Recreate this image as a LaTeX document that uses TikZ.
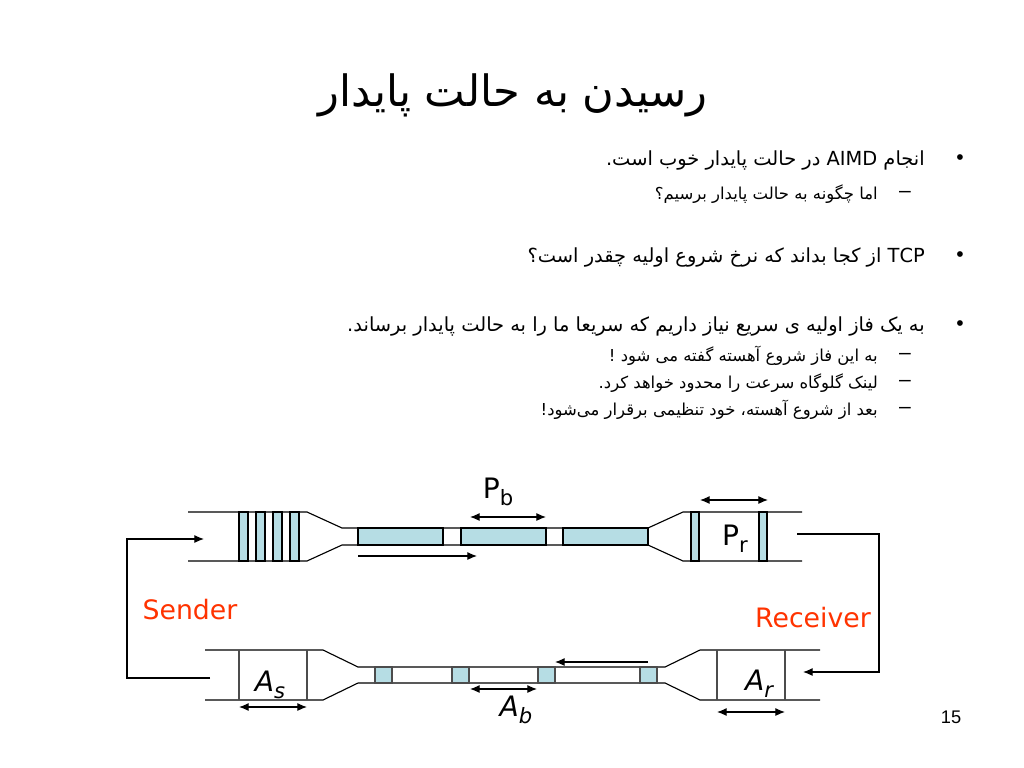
\documentclass[tikz,border=0pt]{standalone}
\usepackage{fontspec}
\setmainfont{Liberation Sans}
\newfontfamily\arabicfont[Script=Arabic]{DejaVu Sans}
\newfontfamily\figfont{DejaVu Sans}
\TeXXeTstate=1
\usetikzlibrary{arrows.meta,positioning}
\definecolor{pktblue}{RGB}{182,221,228}
\definecolor{labelred}{RGB}{255,51,0}
\newcommand{\sbs}[1]{\raisebox{-0.45ex}{\fontsize{15}{16}\selectfont #1}}
\newcommand{\rtl}[1]{\beginR #1\endR}

\begin{document}
\begin{tikzpicture}[x=0.025cm,y=-0.025cm,
  pipe/.style={draw=black,line width=0.8pt},
  pkt/.style={draw=black,fill=pktblue,line width=0.8pt},
  ackpkt/.style={draw=black!70,fill=pktblue,line width=0.8pt},
  arr/.style={-{Latex[length=2.4mm,width=2mm]},line width=0.8pt},
  dbl/.style={{Latex[length=2.4mm,width=2mm]}-{Latex[length=2.4mm,width=2mm]},line width=0.8pt},
  side/.style={font=\figfont\fontsize{19}{22}\selectfont,text=labelred},
  sym/.style={font=\figfont\fontsize{20}{24}\selectfont,inner sep=0pt},
  head/.style={font=\arabicfont\fontsize{30.7}{36}\selectfont,inner sep=0pt},
  item/.style={font=\arabicfont\fontsize{13.8}{17}\selectfont,anchor=east,inner sep=0pt},
  subitem/.style={font=\arabicfont\fontsize{11.7}{15}\selectfont,anchor=east,inner sep=0pt},
  dot/.style={font=\fontsize{15}{18}\selectfont,inner sep=0pt}
]
\useasboundingbox (0,0) rectangle (1024,768);
\fill[white] (0,0) rectangle (1024,768);

% title and bullets
\node[head] (title) at (513,95) {\rtl{رسیدن به حالت پایدار}};
\node[dot] (b1) at (960,160) {•};
\node[item] (t1) at (925,160) {\rtl{انجام AIMD در حالت پایدار خوب است.}};
\node[dot] (d11) at (905,194) {–};
\node[subitem] (t11) at (878,194) {\rtl{اما چگونه به حالت پایدار برسیم؟}};
\node[dot] (b2) at (960,257) {•};
\node[item] (t2) at (925,257) {\rtl{TCP از کجا بداند که نرخ شروع اولیه چقدر است؟}};
\node[dot] (b3) at (960,326) {•};
\node[item] (t3) at (925,326) {\rtl{به یک فاز اولیه ی سریع نیاز داریم که سریعا ما را به حالت پایدار برساند.}};
\node[dot] (d31) at (905,356) {–};
\node[subitem] (t31) at (878,356) {\rtl{به این فاز شروع آهسته گفته می شود !}};
\node[dot] (d32) at (905,383) {–};
\node[subitem] (t32) at (878,383) {\rtl{لینک گلوگاه سرعت را محدود خواهد کرد.}};
\node[dot] (d33) at (905,410) {–};
\node[subitem] (t33) at (878,410) {\rtl{بعد از شروع آهسته، خود تنظیمی برقرار می‌شود!}};

% data channel
\draw[pipe] (188,512) -- (307,512) -- (342,528) -- (648,528) -- (683,512) -- (802,512);
\draw[pipe] (188,561) -- (307,561) -- (342,545) -- (648,545) -- (683,561) -- (802,561);
\foreach \x in {239,256,273,290}
  \draw[pkt] (\x,512) rectangle ++(9,49);
\foreach \x/\w in {358/85,461/85,563/85}
  \draw[pkt] (\x,528) rectangle ++(\w,17);
\foreach \x in {691,759}
  \draw[pkt] (\x,512) rectangle ++(8,49);

% ack channel
\draw[pipe] (205,650) -- (323,650) -- (358,667) -- (665,667) -- (700,650) -- (820,650);
\draw[pipe] (205,700) -- (323,700) -- (358,683) -- (665,683) -- (700,700) -- (820,700);
\foreach \x in {239,307,717,785}
  \draw[pipe,draw=black!70] (\x,650) -- (\x,700);
\foreach \x in {375,452,538,640}
  \draw[ackpkt] (\x,667) rectangle ++(17,16);

% labels
\node[sym] (Pb) at (498,492) {P\sbs{b}};
\node[sym] (Pr) at (735,539) {P\sbs{r}};
\node[sym] (As) at (270,685) {\itshape A\sbs{s}};
\node[sym] (Ar) at (759,684) {\itshape A\sbs{r}};
\node[sym] (Ab) at (516,710) {\itshape A\sbs{b}};
\node[side] (sender) at (190,610) {Sender};
\node[side] (receiver) at (813,618) {Receiver};
\node[font=\fontsize{13}{15}\selectfont] (page) at (951,717) {15};

% size markers
\coordinate (pbL) at (470,517); \coordinate (pbR) at (546,517);
\coordinate (prL) at (700,500); \coordinate (prR) at (768,500);
\coordinate (asL) at (239,707); \coordinate (asR) at (307,707);
\coordinate (abL) at (470,689); \coordinate (abR) at (537,689);
\coordinate (arL) at (717,712); \coordinate (arR) at (785,712);
\draw[dbl] (pbL) -- (pbR);
\draw[dbl] (prL) -- (prR);
\draw[dbl] (asL) -- (asR);
\draw[dbl] (abL) -- (abR);
\draw[dbl] (arL) -- (arR);

% flow arrows
\coordinate (dataFrom) at (358,556); \coordinate (dataTo) at (477,556);
\coordinate (ackFrom) at (648,662); \coordinate (ackTo) at (555,662);
\draw[arr] (dataFrom) -- (dataTo);
\draw[arr] (ackFrom) -- (ackTo);

% feedback loops
\coordinate (rcvOut) at (797,534); \coordinate (ackIn) at (803,672);
\coordinate (ackOut) at (210,678); \coordinate (sndIn) at (204,539);
\draw[arr] (rcvOut) -- ++(82,0) |- (ackIn);
\draw[arr] (ackOut) -- ++(-83,0) |- (sndIn);
\end{tikzpicture}
\end{document}
